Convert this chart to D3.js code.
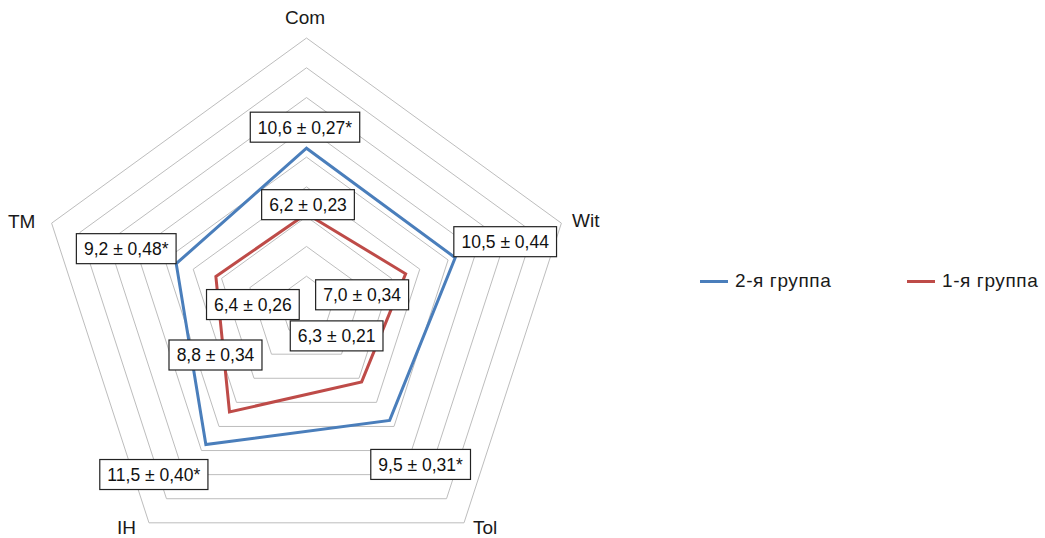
<!DOCTYPE html>
<html><head><meta charset="utf-8">
<script src="https://cdn.jsdelivr.net/npm/d3@7/dist/d3.min.js"></script>
<style>
body{margin:0;background:#fff;}
text{font-family:"Liberation Sans",Arial,sans-serif;}
</style></head>
<body>
<svg id="chart" width="1045" height="538"></svg>
<script>
// ---- data ----
const axes = ["Com", "Wit", "Tol", "IH", "TM"];
const seriesNames = ["2-я группа", "1-я группа"];
const group2 = [10.6, 10.5, 9.5, 11.5, 9.2];
const group1 = [6.2, 7.0, 6.3, 8.8, 6.4];
const group2Labels = ["10,6 ± 0,27*", "10,5 ± 0,44", "9,5 ± 0,31*", "11,5 ± 0,40*", "9,2 ± 0,48*"];
const group1Labels = ["6,2 ± 0,23", "7,0 ± 0,34", "6,3 ± 0,21", "8,8 ± 0,34", "6,4 ± 0,26"];
const ticks = [2, 4, 6, 8, 10, 12, 14, 16, 18];

// ---- layout ----
const cx = 306.5, cy = 306, R = 268;
const colors = ["#4a7ebb", "#be4b48"];
// label box offsets (px) from their data point
const off2 = [[-1.5, -21], [50, -16], [31, 44], [-52, 30], [-50, -15]];
const off1 = [[1.5, -9], [-43.5, 21], [-25, -46], [-14, -57], [37, 28]];

const svg = d3.select("#chart");
const r = d3.scaleLinear().domain([0, 18]).range([0, R]);
const ang = d3.scalePoint().domain(axes).range([0, 2 * Math.PI * (axes.length - 1) / axes.length]);
const pt = (a, v) => [cx + r(v) * Math.sin(ang(a)), cy - r(v) * Math.cos(ang(a))];

// grid
const line = d3.line();
svg.append("g").selectAll("path").data(ticks).join("path")
  .attr("d", t => line(axes.map(a => pt(a, t))) + "Z")
  .attr("fill", "none").attr("stroke", "#bdbdbd").attr("stroke-width", 1);

// axis labels
const axisLabelPos = {Com: [305, 24, "middle"], Wit: [572, 227, "start"], Tol: [473, 534, "start"], IH: [117, 534, "start"], TM: [8, 228, "start"]};
svg.append("g").selectAll("text").data(axes).join("text")
  .attr("x", a => axisLabelPos[a][0]).attr("y", a => axisLabelPos[a][1])
  .attr("text-anchor", a => axisLabelPos[a][2])
  .attr("font-size", 19).attr("fill", "#1a1a1a").text(a => a);

// series
const series = [group2, group1];
svg.append("g").selectAll("path").data(series).join("path")
  .attr("d", s => line(axes.map((a, i) => pt(a, s[i]))) + "Z")
  .attr("fill", "none").attr("stroke", (s, i) => colors[i])
  .attr("stroke-width", 3).attr("stroke-linejoin", "miter");

// data labels
function drawLabels(vals, labels, offs) {
  const g = svg.append("g");
  vals.forEach((v, i) => {
    const p = pt(axes[i], v);
    const x = p[0] + offs[i][0], y = p[1] + offs[i][1];
    const lg = g.append("g");
    const rect = lg.append("rect");
    const t = lg.append("text").attr("x", x).attr("y", y + 6.5)
      .attr("text-anchor", "middle").attr("font-size", 17.5).attr("fill", "#111").text(labels[i]);
    const bb = t.node().getBBox();
    const w = bb.width + 15;
    rect.attr("x", x - w / 2).attr("y", y - 15).attr("width", w).attr("height", 30)
      .attr("fill", "#fff").attr("stroke", "#222").attr("stroke-width", 1.2);
  });
}
drawLabels(group2, group2Labels, off2);
drawLabels(group1, group1Labels, off1);

// legend
const legX = [700, 907];
const lg = svg.append("g");
seriesNames.forEach((n, i) => {
  lg.append("line").attr("x1", legX[i]).attr("x2", legX[i] + 28).attr("y1", 281.5).attr("y2", 281.5)
    .attr("stroke", colors[i]).attr("stroke-width", 3);
  lg.append("text").attr("x", legX[i] + 35).attr("y", 287).attr("font-size", 19)
    .attr("letter-spacing", 0.6).attr("fill", "#1a1a1a").text(n);
});
</script>
</body></html>
